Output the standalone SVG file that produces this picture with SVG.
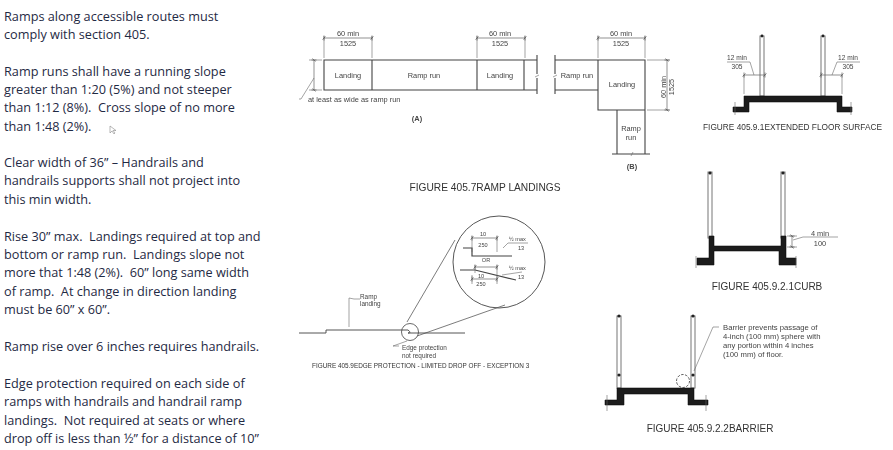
<svg xmlns="http://www.w3.org/2000/svg" width="893" height="450" viewBox="0 0 893 450">
<style>
.body{font-family:"Open Sans","Liberation Sans",sans-serif;font-size:12.7px;fill:#1f2a44}
.cap{font-family:"Liberation Sans",Arial,sans-serif;fill:#333}
.lab{font-family:"Liberation Sans",Arial,sans-serif;font-size:7.4px;fill:#444}
.sm{font-size:5.6px}
.fine{font-size:6.4px}
.lin{fill:none;stroke:#444;stroke-width:1.1}
.thin{fill:none;stroke:#666;stroke-width:.6}
.dim{fill:none;stroke:#666;stroke-width:.7;marker-start:url(#tick);marker-end:url(#tick)}
.post{fill:#fff;stroke:#777;stroke-width:1}
.solid{fill:#1a1a1a;stroke:#1a1a1a;stroke-width:.6}
.dot{fill:#222}
.m{text-anchor:middle}
.fig{filter:url(#soft)}
</style>
<defs>
<marker id="tick" markerUnits="userSpaceOnUse" markerWidth="8" markerHeight="8" refX="4" refY="4" orient="auto"><path d="M4 1.500V6.500M2.500 5.500L5.500 2.500" stroke="#555" stroke-width=".7" fill="none"/></marker>
<filter id="soft" x="-5%" y="-5%" width="110%" height="110%"><feGaussianBlur stdDeviation=".35"/></filter>
</defs>
<rect width="893" height="450" fill="#fff"/>
<g id="notes" class="body">
<text x="4" y="21">Ramps along accessible routes must</text>
<text x="4" y="39">comply with section 405.</text>
<text x="4" y="76">Ramp runs shall have a running slope</text>
<text x="4" y="94">greater than 1:20 (5%) and not steeper</text>
<text x="4" y="112">than 1:12 (8%).&#160; Cross slope of no more</text>
<text x="4" y="131">than 1:48 (2%).</text>
<text x="4" y="167">Clear width of 36” – Handrails and</text>
<text x="4" y="185">handrails supports shall not project into</text>
<text x="4" y="204">this min width.</text>
<text x="4" y="241">Rise 30” max.&#160; Landings required at top and</text>
<text x="4" y="259">bottom or ramp run.&#160; Landings slope not</text>
<text x="4" y="277">more that 1:48 (2%).&#160; 60” long same width</text>
<text x="4" y="296">of ramp.&#160; At change in direction landing</text>
<text x="4" y="314">must be 60” x 60”.</text>
<text x="4" y="351">Ramp rise over 6 inches requires handrails.</text>
<text x="4" y="388">Edge protection required on each side of</text>
<text x="4" y="406">ramps with handrails and handrail ramp</text>
<text x="4" y="425">landings.&#160; Not required at seats or where</text>
<text x="4" y="443">drop off is less than ½” for a distance of 10”</text>
</g>
<g id="ramp-landings-a" class="fig">
<path class="lin" d="M537 60H324V90H537M372 60V90M477 60V90M524 60V90M537 55V74M537 78V94"/>
<path class="thin" d="M324 36V58M372 36V58M477 36V58M525 36V58M314 78L301 99H299"/>
<line class="dim" x1="324" y1="38" x2="372" y2="38"/><line class="dim" x1="477" y1="38" x2="525" y2="38"/><line class="dim" x1="314" y1="60" x2="314" y2="90"/>
<path class="thin" d="M535 77L539 75M309 60H322M309 90H322"/>
<text class="lab m" x="348" y="36">60 min</text><text class="lab m" x="348" y="46">1525</text>
<text class="lab m" x="500" y="36">60 min</text><text class="lab m" x="500" y="46">1525</text>
<text class="lab m" x="348" y="78">Landing</text><text class="lab m" x="424" y="78">Ramp run</text><text class="lab m" x="500" y="78">Landing</text>
<text class="lab" x="308" y="102">at least as wide as ramp run</text>
<text class="lab m" x="417" y="121" font-weight="bold">(A)</text>
</g>
<g id="ramp-landings-b" class="fig">
<path class="lin" d="M555 60H645V154M555 90H598M598 60V110H645M617 110V154M612 154H650M555 55V74M555 78V94"/>
<path class="thin" d="M598 36V58M645 36V58M647 60H670M647 110H670M631 156L633 152M553 77L557 75"/>
<line class="dim" x1="598" y1="38" x2="645" y2="38"/><line class="dim" x1="667" y1="60" x2="667" y2="110"/>
<text class="lab m" x="621" y="36">60 min</text><text class="lab m" x="621" y="46">1525</text>
<text class="lab m" x="577" y="78">Ramp run</text><text class="lab m" x="622" y="87">Landing</text>
<text class="lab m" x="631" y="131">Ramp</text><text class="lab m" x="631" y="140">run</text>
<text class="lab m" transform="translate(666 87) rotate(-90)">60 min</text><text class="lab m" transform="translate(674 87) rotate(-90)">1525</text>
<text class="lab m" x="632" y="169" font-weight="bold">(B)</text>
</g>
<text id="caption-ramp-landings" class="cap m fig" x="485" y="191" font-size="10.2">FIGURE 405.7RAMP LANDINGS</text>
<g id="extended-floor" class="fig">
<rect class="post" x="760" y="36" width="4" height="60"/><rect class="post" x="821" y="36" width="4" height="60"/>
<circle class="dot" cx="762" cy="36" r="1.4"/><circle class="dot" cx="823" cy="36" r="1.4"/>
<path class="solid" d="M744 96H842V107H852V112H837V102H749V112H733V107H744Z"/>
<path class="thin" d="M744 94V75M842 94V75M754 75L750 62H727M832 75L837 62H860M735 102V115M851 102V115"/>
<line class="dim" x1="744" y1="75" x2="765" y2="75"/><line class="dim" x1="821" y1="75" x2="842" y2="75"/>
<text class="lab m" x="737" y="60" style="font-size:6.6px">12 min</text><text class="lab m" x="737" y="69" style="font-size:6.6px">305</text>
<text class="lab m" x="848" y="60" style="font-size:6.6px">12 min</text><text class="lab m" x="848" y="69" style="font-size:6.6px">305</text>
<text class="cap m" x="792.500" y="130" font-size="8.3">FIGURE 405.9.1EXTENDED FLOOR SURFACE</text>
</g>
<g id="edge-protection" class="fig">
<path class="lin" d="M299 333H326V330H408Q412 333 408 333H465" style="stroke-width:.9"/>
<path class="thin" d="M349 327V298L354 299H360M407 341L393 346H399"/>
<circle class="lin" cx="410" cy="332" r="8.500" style="stroke-width:.8"/>
<circle class="lin" cx="499" cy="262" r="46" style="stroke-width:.9"/>
<path class="lin" d="M407 322L455 240M417 336L505 305" style="stroke-width:.7"/>
<path class="lin" d="M463 248H472V256H512M460 270H475L516 280" style="stroke-width:1.200"/>
<path class="thin" d="M472 236V252M497 236V252M503 248L508 243H528M475 265V273M497 265V284M472 275V284M522 272L502 275"/>
<line class="dim" x1="472" y1="238" x2="497" y2="238"/><line class="dim" x1="475" y1="267" x2="497" y2="267"/><line class="dim" x1="472" y1="279" x2="497" y2="279"/>
<text class="lab m sm" x="483" y="236">10</text><text class="lab m sm" x="483" y="247">250</text>
<text class="lab sm" x="509" y="241">½ max</text><text class="lab sm" x="518" y="250">13</text>
<text class="lab m sm" x="486" y="262">OR</text>
<text class="lab sm" x="509" y="270">½ max</text><text class="lab sm" x="518" y="279">13</text>
<text class="lab m sm" x="481" y="278">10</text><text class="lab m sm" x="481" y="286">250</text>
<text class="lab fine" x="360" y="299">Ramp</text><text class="lab fine" x="360" y="306">landing</text>
<text class="lab fine" x="402" y="350">Edge protection</text><text class="lab fine" x="402" y="358">not required</text>
<text class="cap" x="312" y="368" font-size="6.400">FIGURE 405.9EDGE PROTECTION - LIMITED DROP OFF - EXCEPTION 3</text>
</g>
<g id="curb" class="fig">
<rect class="post" x="708" y="172" width="4" height="66"/><rect class="post" x="781" y="172" width="4" height="66"/>
<circle class="dot" cx="710" cy="173" r="1.6"/><circle class="dot" cx="783" cy="173" r="1.6"/>
<path class="solid" d="M709 236H714V246H781V236H786V258H796V265H779V251H714V265H697V258H709Z"/>
<path class="thin" d="M787 236H797M787 247H797M793 240L803 237H838M696 256V268M796 256V268"/>
<line class="dim" x1="792" y1="236" x2="792" y2="247"/>
<text class="lab m" x="820" y="236">4 min</text><text class="lab m" x="820" y="246">100</text>
<text class="cap m" x="767" y="290" font-size="10">FIGURE 405.9.2.1CURB</text>
</g>
<g id="barrier" class="fig">
<rect class="post" x="617" y="316" width="4" height="72"/><rect class="post" x="691" y="316" width="4" height="72"/>
<circle class="dot" cx="619" cy="316" r="1.6"/><circle class="dot" cx="693" cy="316" r="1.6"/><circle class="dot" cx="619" cy="375" r="1.6"/><circle class="dot" cx="693" cy="375" r="1.6"/>
<path class="solid" d="M617 388H694V400H708V405H688V394H624V405H605V400H617Z"/>
<circle cx="683" cy="381" r="6.500" fill="none" stroke="#555" stroke-width="1" stroke-dasharray="2.500 1.500"/>
<path class="thin" d="M694 371L713 327H719M607 395V411M706 395V411"/>
<text class="lab" x="723" y="330" style="font-size:7.700px">Barrier prevents passage of</text>
<text class="lab" x="723" y="339" style="font-size:7.700px">4-inch (100 mm) sphere with</text>
<text class="lab" x="723" y="348" style="font-size:7.700px">any portion within 4 inches</text>
<text class="lab" x="723" y="357" style="font-size:7.700px">(100 mm) of floor.</text>
<text class="cap m" x="710" y="432" font-size="10">FIGURE 405.9.2.2BARRIER</text>
</g>
<path id="cursor" d="M110 126V133L112 131L114 134L115 133L113 130.500H116Z" fill="#fff" stroke="#888" stroke-width=".6"/>
<g id="connectors"/>
</svg>
